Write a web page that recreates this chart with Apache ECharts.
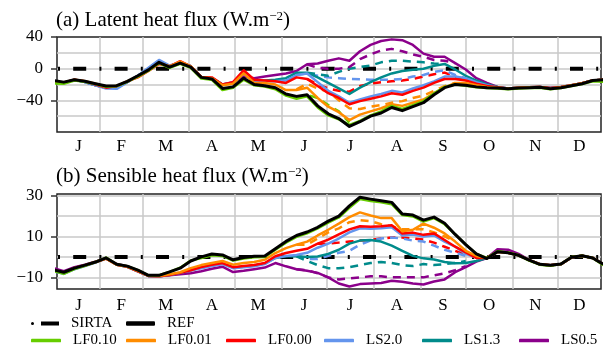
<!DOCTYPE html>
<html>
<head>
<meta charset="utf-8">
<script src="https://cdn.jsdelivr.net/npm/echarts@6.0.0/dist/echarts.min.js"></script>
<style>
  html, body { margin: 0; padding: 0; background: #fff; }
  #chart { width: 608px; height: 349px; }
</style>
</head>
<body>
<div id="chart"></div>
<script>
// weekly sample days (day of year)
const days = [0, 7, 14, 21, 28, 35, 42, 49, 56, 63, 70, 77, 84, 91, 98, 105, 112, 119, 126, 133,
  140, 147, 154, 161, 168, 175, 182, 189, 196, 203, 210, 217, 224, 231, 238, 245, 252, 259, 266, 273,
  280, 287, 294, 301, 308, 315, 322, 329, 336, 343, 350, 357, 364];
// summer window where the dashed runs leave the solid ones
const dashDays = [161, 168, 175, 182, 189, 196, 203, 210, 217, 224, 231, 238, 245, 252, 259, 266, 273, 280];
const sirtaDays = [2.5, 362.5];
const sirtaVals = [0, 0];

const monthEdges = [31, 59, 90, 120, 151, 181, 212, 243, 273, 304, 334];
const monthMids = [16.75, 45, 74.5, 105, 135.5, 166, 196.5, 227.5, 258, 288.5, 319, 348.25];
const monthLetters = ['J', 'F', 'M', 'A', 'M', 'J', 'J', 'A', 'S', 'O', 'N', 'D'];

// (a) latent heat flux
const refA = [-15, -17, -14, -16, -19, -22, -21.5, -16, -9, -1.5,
  8, 2, 7, 2, -11, -13, -25, -23, -12, -20,
  -21.5, -24, -32, -35, -33, -47, -57, -63, -73, -67,
  -60, -56, -49, -53, -48, -43, -33, -24, -20, -21,
  -23, -24, -24.5, -25.5, -24.5, -24, -23.5, -25.5, -24, -21.5,
  -19, -15, -14];
const lf010A = [-18.5, -19, -15, -16.5, -19.5, -23, -22, -16.5, -10, -2.5,
  7, 1, 6, 1, -12.5, -14, -27, -24, -14, -21,
  -22.5, -26, -34, -38, -35, -49, -59, -64, -71, -66,
  -59, -54, -47, -51, -46, -41, -31, -23, -20, -21.5,
  -23.5, -24.5, -25, -26, -25, -24.5, -24, -26, -24.5, -22,
  -19.5, -16, -16.5];
const lf001A = [-17.5, -18, -14, -16, -19, -23, -22, -16, -10, -2,
  7, 3, 9, 3, -11, -12, -21, -19, -6, -18,
  -18, -20, -27, -27, -24, -37, -48, -55, -65, -58,
  -54, -50, -45, -47, -43, -39, -31, -24, -18, -18,
  -21, -23, -24, -25, -24, -23.5, -23, -25, -23.5, -21,
  -18.5, -15, -14];
const lf000A = [-16.5, -17.5, -14, -16, -20, -24, -22, -16, -11, -3,
  6, 3, 9.5, 3, -10.5, -11, -20, -17, -2, -14,
  -15, -16, -18, -11, -13, -22, -31, -37, -45, -41,
  -38, -35, -31, -33, -28, -24, -18, -13, -13, -15,
  -19, -22, -23.5, -25, -24, -23.5, -23, -24.5, -23, -21,
  -18.5, -15, -14];
const ls20A = [-17, -18, -14, -17, -21, -25, -25.5, -17, -9, 1,
  11, 4, 8, 3, -11, -12, -20, -18, -6, -15,
  -16, -16, -15, -8, -6, -17, -28, -35, -43, -39,
  -35, -32, -28, -30, -25, -21, -16, -10, -10, -12,
  -17, -21, -23.5, -25, -24, -23.5, -23, -24.5, -23, -21,
  -18.5, -15, -14];
const ls13A = [-17, -18, -14, -17, -21, -24, -24, -17, -9, 0,
  10, 3, 8, 3, -11, -12, -20, -18, -6, -15,
  -15, -14, -12, -5, -5, -11, -18, -25, -32, -24,
  -17, -11, -6, -3, -1.5, 0, 3.5, 6, -1, -9,
  -15, -20, -23, -25, -24, -23.5, -23, -24.5, -23, -21,
  -18.5, -15, -14];
const ls05A = [-17, -18, -14, -17, -21, -24, -24, -17, -9, 0,
  10, 3, 8, 3, -11, -12, -20, -17, -10, -12,
  -10, -8, -6, -3, 5.5, 6.5, 10, 13, 10, 22,
  30, 35, 37, 36, 30, 19, 15, 15, 7, -1,
  -12, -18, -23, -25, -24, -23.5, -23, -24.5, -23, -21,
  -18.5, -15, -14];
const lf010DashA = [-37, -33, -37, -46, -54, -68, null, null, null, null, null, null, null, null, null, null, null, null];
const lf001DashA = [-26, -19, -25, -29, -40, -50, -51, -48, -46, -43, -41, -37, -34, -28, -22, -18, null, null];
const lf000DashA = [null, -13, -20, -25, -28, -29, -22, -19, -17, -16, -15, -13, -10, -7, -5, -10, -15, null];
const ls20DashA = [-8, -6, -9, -11, -12, -13, -13.5, -14, -14, -14, -13, -10, -8, -4, -2, -8, -12, null];
const ls13DashA = [null, -5, -7, -9, -4, 0, 2, 4, 8, 10, 10, 9, 8, 6.5, 6, null, null, null];
const ls05DashA = [null, 5.5, 1, 0, 0, 2, 12, 18, 23, 25, 22, 18, 15, 11, 10, 7, null, null];

// (b) sensible heat flux
const refB = [-6.3, -7.5, -5.5, -4, -2.5, -0.5, -3.6, -4.5, -6.5, -9,
  -9, -7.3, -5.5, -2, 0, 1.4, 1, -1.4, -0.3, 0.3,
  0.5, 4, 7.6, 10.5, 12.2, 14.5, 17.5, 20, 25, 29.2,
  28.3, 27.5, 26.7, 21, 20.5, 18, 19.5, 16.5, 11, 6,
  1.5, -0.8, 2.5, 2, 0.8, -1.6, -3.6, -4.1, -3.5, -0.2,
  0.6, -0.5, -3.6];
const lf010B = [-6.8, -8.3, -6, -4.3, -2.5, -0.3, -3.6, -4.5, -6.5, -9,
  -9, -7.3, -5.3, -1.8, -0.5, 0.8, 0.5, -1.8, -0.8, -0.2,
  0, 3.5, 7, 9.8, 11.5, 14, 16.8, 19.3, 24, 28.3,
  27.4, 26.8, 25.8, 20.5, 19.8, 17.3, 19, 16, 11, 6,
  1.5, -0.5, 2.8, 2.2, 0.8, -1.8, -3.8, -4.3, -3.5, 0,
  0.6, -0.5, -4];
const lf001B = [-6.5, -7.8, -5.5, -4, -2.5, -0.8, -3.8, -4.7, -6.8, -9.2,
  -9.3, -8.5, -7.5, -5.5, -4, -3, -2, -3.8, -3, -2.5,
  -1.4, 1.9, 4.3, 6, 7.5, 10.5, 13.3, 16.3, 19.5, 21.8,
  20.3, 19, 19, 12.5, 13.3, 16.3, 14.3, 11.5, 7.5, 3,
  0.5, -0.5, 2.5, 2, 0.8, -1.6, -3.6, -4.1, -3.5, -0.2,
  0.6, -0.5, -3.6];
const lf000B = [-6.5, -7.8, -5.5, -4.2, -2.5, -0.8, -3.8, -4.8, -7, -9.3,
  -9.5, -8.8, -7.8, -6.5, -5, -3.8, -3, -5, -4.5, -4,
  -3, 0.3, 1.9, 3, 4, 6.5, 8.5, 11, 13.5, 15,
  14.8, 15, 15.5, 11.5, 11.9, 10.8, 11.5, 8.3, 5, 2.2,
  -0.5, -0.5, 2.5, 2, 0.8, -1.6, -3.6, -4.1, -3.5, -0.2,
  0.6, -0.5, -3.6];
const ls20B = [-7, -8.3, -6, -4.5, -2.8, -0.8, -3.8, -4.8, -7, -9.3,
  -9.5, -8.8, -7.8, -6.5, -5.5, -4.5, -3.5, -5.5, -5, -4.6,
  -3.5, -0.5, 0.5, 1, 2, 4.5, 6.5, 9, 12, 14,
  13.8, 14, 14.5, 10.5, 11, 10, 10.5, 7.5, 5, 1.5,
  -0.5, -0.5, 2.5, 2, 0.8, -1.6, -3.6, -4.1, -3.5, -0.2,
  0.6, -0.5, -3.6];
const ls13B = [-6.8, -8, -5.8, -4.2, -2.5, -0.5, -3.8, -4.8, -7, -9.3,
  -9.5, -8.8, -7.8, -6.5, -5.2, -4.2, -3.3, -5.2, -4.8, -4.2,
  -3.2, -0.5, 0.3, 0.3, 0, 0.2, 1.5, 3.5, 6.5, 8,
  8.3, 7.5, 5.5, 3, 0.5, -0.7, -1.3, -2.5, -3.1, -3,
  -2, -0.5, 2.5, 2, 0.8, -1.6, -3.6, -4.1, -3.5, -0.2,
  0.6, -0.5, -3.6];
const ls05B = [-5.5, -7, -5, -3.8, -2.3, -0.5, -3.5, -4.5, -7, -9.3,
  -9.5, -9, -8.5, -8, -7, -5.8, -4.8, -7.4, -6.8, -6,
  -5.2, -3, -4.6, -6, -6.8, -7.8, -10, -13, -14.5, -13.3,
  -13, -12.8, -11.7, -12.2, -13, -13.5, -12, -11, -7.5, -5,
  -2.3, -0.5, 3.8, 3.5, 1.5, -1.6, -3.6, -4.1, -3.5, -0.2,
  0.6, -0.5, -3.6];
const lf001DashB = [6, 6, 9, 12, 14, 17, 18, 17.5, 16, 15, 13.5, 13.5, 13.5, 12, 10, 7.5, null, null];
const lf000DashB = [null, null, 6.5, 6.5, 7, 7.5, 8, 8.3, 9, 9.5, 9.5, 9, 8.5, 7, 5, 3, 1, null];
const ls20DashB = [1, -1, -1, 0.5, 2, 3, 6, 8, 9, 9.5, 9, 8, 7.5, 5.5, 3.5, 2, 0.5, null];
const ls13DashB = [0.3, -2, -4, -5.5, -5.5, -5, -4, -3, -2.5, -3, -4, -4.5, -3.5, -4, -3.5, -3, -2, null];
const ls05DashB = [-6, -6.5, -8, -10, -11, -10.5, -10, -9.5, -9.5, -10, -10, -10, -10, -9, -8, -6.5, -4.5, null];

const serif = '"Liberation Serif", "Times New Roman", serif';
const gridColor = '#c8c8c8';
const colors = {
  'LF0.10': '#66CD00',
  'LF0.01': '#FF8C00',
  'LF0.00': '#FF0000',
  'LS2.0': '#6495ED',
  'LS1.3': '#008B8B',
  'LS0.5': '#8B008B',
};

function pairs(xs, ys) {
  return xs.map((x, i) => [x, ys[i]]);
}

function lineSeries(name, panel, xs, ys, color, width, type) {
  return {
    name,
    type: 'line',
    xAxisIndex: panel * 2,
    yAxisIndex: panel * 2,
    data: pairs(xs, ys),
    symbol: 'none',
    silent: true,
    clip: true,
    connectNulls: false,
    lineStyle: { color, width, type, cap: 'butt', join: 'round' },
    itemStyle: { color },
  };
}

function panelSeries(panel, sets) {
  const list = [];
  const sirta = lineSeries('SIRTA', panel, sirtaDays, sirtaVals, '#000', 4, [2, 13.2, 13, 13.2]);
  sirta.lineStyle.dashOffset = -1;
  list.push(sirta);
  sets.dashed.forEach(([name, vals]) => {
    list.push(lineSeries(name + ' dashed', panel, dashDays, vals, colors[name], 2.5, [8, 6]));
  });
  sets.solid.forEach(([name, vals]) => {
    list.push(lineSeries(name, panel, days, vals, colors[name], 2.5, 'solid'));
  });
  list.push(lineSeries('REF', panel, days, sets.ref, '#000', 3, 'solid'));
  return list;
}

const seriesA = panelSeries(0, {
  dashed: [['LF0.10', lf010DashA], ['LF0.01', lf001DashA], ['LF0.00', lf000DashA],
    ['LS2.0', ls20DashA], ['LS1.3', ls13DashA], ['LS0.5', ls05DashA]],
  solid: [['LS0.5', ls05A], ['LS1.3', ls13A], ['LS2.0', ls20A],
    ['LF0.00', lf000A], ['LF0.01', lf001A], ['LF0.10', lf010A]],
  ref: refA,
});
const seriesB = panelSeries(1, {
  dashed: [['LF0.01', lf001DashB], ['LF0.00', lf000DashB],
    ['LS2.0', ls20DashB], ['LS1.3', ls13DashB], ['LS0.5', ls05DashB]],
  solid: [['LS0.5', ls05B], ['LS1.3', ls13B], ['LS2.0', ls20B],
    ['LF0.00', lf000B], ['LF0.01', lf001B], ['LF0.10', lf010B]],
  ref: refB,
});

function xAxes(grid, margin) {
  return [
    {
      gridIndex: grid, type: 'value', min: 2.5, max: 362.5, position: 'bottom',
      axisLine: { show: false }, axisLabel: { show: false },
      axisTick: { show: false, customValues: monthEdges },
      splitLine: { show: true, lineStyle: { color: gridColor, width: 1.5 } },
    },
    {
      gridIndex: grid, type: 'value', min: 2.5, max: 362.5, position: 'bottom',
      axisLine: { show: false }, axisTick: { show: false }, splitLine: { show: false },
      axisLabel: {
        customValues: monthMids,
        formatter: (v) => monthLetters[monthMids.indexOf(v)],
        fontFamily: serif, fontSize: 17, color: '#000', margin,
      },
    },
  ];
}

function yAxes(grid, min, max, lines, labels) {
  return [
    {
      gridIndex: grid, type: 'value', min, max,
      axisLine: { show: false }, axisLabel: { show: false },
      axisTick: { show: false, customValues: lines },
      splitLine: { show: true, lineStyle: { color: gridColor, width: 1.5 } },
    },
    {
      gridIndex: grid, type: 'value', min, max, position: 'left',
      axisLine: { show: false }, splitLine: { show: false },
      axisTick: { show: true, customValues: labels, length: 6, lineStyle: { color: '#333', width: 1.5 } },
      axisLabel: {
        customValues: labels,
        formatter: (v) => (v < 0 ? '\u2212' + (-v) : String(v)),
        fontFamily: serif, fontSize: 17, color: '#000', margin: 14,
      },
    },
  ];
}

const sirtaIcon = 'path://M1.5,0.5 A1.5,1.5 0 1 1 1.5,3.5 A1.5,1.5 0 1 1 1.5,0.5 Z M10,0 L28,0 L28,4 L10,4 Z';
const legendSpots = [
  ['SIRTA', 31, 316, 28, 4],
  ['REF', 126, 316, 29, 4.5],
  ['LF0.10', 31, 333, 30, 3.5],
  ['LF0.01', 126, 333, 30, 3.5],
  ['LF0.00', 226, 333, 30, 3.5],
  ['LS2.0', 324, 333, 30, 3.5],
  ['LS1.3', 422, 333, 30, 3.5],
  ['LS0.5', 519, 333, 30, 3.5],
];

const titleStyle = {
  fontFamily: serif, fontSize: 21, fontWeight: 'normal', color: '#000',
  rich: { sup: { fontFamily: serif, fontSize: 13, color: '#000', verticalAlign: 'top' } },
};

const chart = echarts.init(document.getElementById('chart'), null, { renderer: 'canvas' });
chart.setOption({
  animation: false,
  backgroundColor: '#fff',
  title: [
    { text: '(a) Latent heat flux (W.m{sup|\u22122})', left: 56, top: 10, padding: 0, textStyle: titleStyle },
    { text: '(b) Sensible heat flux (W.m{sup|\u22122})', left: 56, top: 166, padding: 0, textStyle: titleStyle },
  ],
  grid: [
    { left: 57, top: 37, width: 544, height: 95, show: true, borderColor: '#222', borderWidth: 1.5, backgroundColor: 'transparent' },
    { left: 57, top: 194, width: 544, height: 95, show: true, borderColor: '#222', borderWidth: 1.5, backgroundColor: 'transparent' },
  ],
  xAxis: [...xAxes(0, 6), ...xAxes(1, 8)],
  yAxis: [
    ...yAxes(0, -80, 40, [-60, -40, -20, 0, 20], [-40, 0, 40]),
    ...yAxes(1, -15.7, 30.8, [-10, 0, 10, 20, 30], [-10, 10, 30]),
  ],
  legend: legendSpots.map(([name, left, top, w, h]) => ({
    data: [name],
    left, top,
    padding: 0,
    itemGap: 0,
    itemWidth: w,
    itemHeight: h,
    icon: name === 'SIRTA' ? sirtaIcon : 'roundRect',
    itemStyle: { borderWidth: 0 },
    selectedMode: false,
    textStyle: { fontFamily: serif, fontSize: 15, color: '#000', padding: [0, 0, 0, 7] },
  })),
  series: [...seriesA, ...seriesB],
});
</script>
</body>
</html>
